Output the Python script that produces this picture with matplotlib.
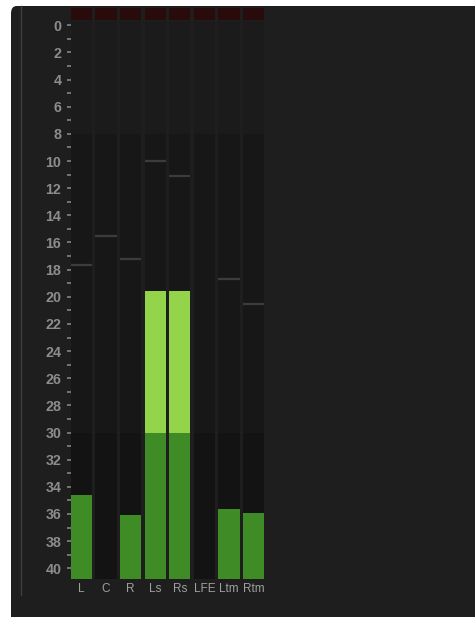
import matplotlib
matplotlib.use("Agg")
import matplotlib.pyplot as plt
import numpy as np
from matplotlib.patches import FancyBboxPatch
from matplotlib.lines import Line2D

# meter data (scale reads downward, 0 at top)
channels = ["L", "C", "R", "Ls", "Rs", "LFE", "Ltm", "Rtm"]
levels = [34.6, np.nan, 36.1, 19.55, 19.55, np.nan, 35.6, 35.9]
peaks = [17.65, 15.5, 17.2, 10.0, 11.1, np.nan, 18.7, 20.5]
major_ticks = list(range(0, 41, 2))
minor_ticks = list(range(1, 40, 2))
zone_edges = [8, 30]

W, H = 475, 617
fig = plt.figure(figsize=(W / 100, H / 100), dpi=100, facecolor="white")

# dark panel
panel = FancyBboxPatch((11 / W, -0.02), 1.0, 1 - 6 / H + 0.02,
                       boxstyle="round,pad=0,rounding_size=0.012",
                       transform=fig.transFigure, facecolor="#1e1e1e",
                       edgecolor="none", zorder=-10)
fig.patches.append(panel)
fig.lines.append(Line2D([20.5 / W, 20.5 / W], [1 - 595 / H, 1 - 6 / H],
                        transform=fig.transFigure, color="#3e3e3e", lw=1,
                        zorder=-5))

ax_l, ax_r = 70.7 / W, 264.3 / W
ax_t, ax_b = 1 - 21 / H, 1 - 579 / H
ax = fig.add_axes([ax_l, ax_b, ax_r - ax_l, ax_t - ax_b])
ax.set_zorder(1)
ax.set_facecolor("none")
for s in ax.spines.values():
    s.set_visible(False)

ymin, ymax = -0.317, 40.79
ax.set_ylim(ymax, ymin)
width = 0.866
ax.set_xlim(-width / 2, len(channels) - 1 + width / 2)

x = np.arange(len(channels))
# column backgrounds by zone
ax.bar(x, zone_edges[0] - ymin, width, bottom=ymin, color="#1b1b1b", zorder=1)
ax.bar(x, zone_edges[1] - zone_edges[0], width, bottom=zone_edges[0],
       color="#171717", zorder=1)
ax.bar(x, ymax - zone_edges[1], width, bottom=zone_edges[1],
       color="#131313", zorder=1)

# clip indicators
ax.bar(x, 0.88, width, bottom=-1.27, color="#2a0b0b", zorder=1, clip_on=False)

# level bars, split by zone
lv = np.array(levels)
low_top = np.where(np.isnan(lv), ymax, np.maximum(lv, zone_edges[1]))
ax.bar(x, ymax - low_top, width, bottom=low_top, color="#3f8c27", zorder=2)
mid_top = np.where(np.isnan(lv) | (lv >= zone_edges[1]), zone_edges[1],
                   np.maximum(lv, zone_edges[0]))
ax.bar(x, zone_edges[1] - mid_top, width, bottom=mid_top, color="#94d44a",
       zorder=2)

# peak hold lines
for xi, p in zip(x, peaks):
    if not np.isnan(p):
        ax.hlines(p, xi - width / 2, xi + width / 2, color="#3c3c3c",
                  lw=1.6, zorder=3)

ax.set_yticks(major_ticks)
ax.set_yticks(minor_ticks, minor=True)
ax.set_yticklabels([str(t) for t in major_ticks], fontsize=10.3,
                   fontweight="bold", family="Liberation Sans",
                   color="#8c8c8c")
ax.tick_params(axis="y", which="both", direction="out", length=2.8,
               width=1.3, color="#7a7a7a", pad=4)

ax.set_xticks(x)
ax.set_xticklabels(channels, fontsize=8.5, family="Liberation Sans",
                   color="#a0a0a0")
ax.tick_params(axis="x", length=0, pad=3)

fig.savefig("out.png", dpi=100, facecolor="white")
